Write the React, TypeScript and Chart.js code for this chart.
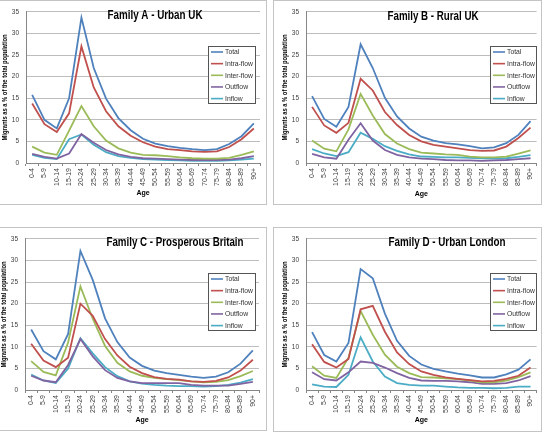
import React, { useEffect, useRef } from "react";
import { Chart, registerables } from "chart.js";

Chart.register(...registerables);

const ageGroups = [
  "0-4", "5-9", "10-14", "15-19", "20-24", "25-29", "30-34", "35-39", "40-44", "45-49",
  "50-54", "55-59", "60-64", "65-69", "70-74", "75-79", "80-84", "85-89", "90+",
];
const seriesNames = ["Total", "Intra-flow", "Inter-flow", "Outflow", "Inflow"];
const seriesColors = ["#4F81BD", "#C0504D", "#9BBB59", "#8064A2", "#4BACC6"];
const yTicks = [0, 5, 10, 15, 20, 25, 30, 35];
const yAxisTitle = "Migrants as a % of the total population";
const xAxisTitle = "Age";

// Family A - Urban UK
const totalA = [15.8, 10.0, 8.0, 15.0, 33.7, 22.0, 14.9, 10.4, 7.6, 5.6, 4.5, 3.9, 3.5, 3.2, 3.0, 3.2, 4.4, 6.2, 9.2];
const intraA = [13.8, 9.0, 7.2, 11.5, 27.0, 17.5, 12.0, 8.5, 6.3, 4.8, 3.8, 3.2, 3.0, 2.7, 2.6, 2.7, 3.7, 5.5, 8.0];
const interA = [3.8, 2.4, 1.9, 7.5, 13.2, 8.5, 5.2, 3.4, 2.4, 1.9, 1.8, 1.6, 1.3, 1.1, 1.0, 1.0, 1.2, 1.9, 2.7];
const outA = [2.1, 1.4, 1.0, 2.2, 6.7, 4.7, 3.0, 2.0, 1.4, 1.1, 1.0, 0.9, 0.8, 0.7, 0.7, 0.7, 0.8, 1.1, 1.6];
const inA = [1.9, 1.2, 0.9, 5.5, 6.6, 4.2, 2.5, 1.6, 1.2, 0.9, 0.8, 0.7, 0.6, 0.5, 0.5, 0.5, 0.6, 0.8, 1.0];

// Family B - Rural UK
const totalB = [15.5, 10.2, 8.4, 13.0, 27.5, 22.0, 15.1, 10.8, 8.0, 6.1, 5.2, 4.6, 4.3, 3.9, 3.4, 3.6, 4.6, 6.5, 9.7];
const intraB = [13.0, 8.7, 7.0, 9.3, 19.5, 16.8, 11.8, 8.8, 6.5, 5.0, 4.2, 3.8, 3.4, 3.0, 2.8, 2.9, 3.8, 5.8, 8.2];
const interB = [5.2, 3.3, 2.7, 7.8, 16.0, 11.0, 6.7, 4.5, 3.2, 2.4, 2.2, 2.0, 1.9, 1.5, 1.3, 1.3, 1.5, 2.2, 2.9];
const outB = [2.1, 1.3, 1.0, 5.4, 9.2, 5.2, 3.0, 1.9, 1.3, 1.0, 0.9, 0.7, 0.6, 0.6, 0.5, 0.6, 0.7, 0.9, 1.1];
const inB = [3.2, 2.2, 1.6, 2.5, 7.0, 5.6, 3.9, 2.8, 2.0, 1.5, 1.4, 1.3, 1.3, 1.2, 1.1, 1.0, 1.1, 1.4, 1.8];

// Family C - Prosperous Britain
const totalC = [14.0, 9.0, 7.1, 13.0, 32.2, 25.5, 16.6, 11.1, 7.5, 5.6, 4.5, 3.9, 3.5, 3.1, 2.8, 3.1, 4.1, 6.1, 9.2];
const intraC = [10.7, 6.8, 5.3, 7.5, 20.0, 17.2, 11.8, 8.0, 5.4, 3.9, 3.0, 2.6, 2.4, 2.0, 1.9, 2.1, 2.9, 4.5, 7.0];
const interC = [6.7, 4.2, 3.4, 11.0, 24.0, 16.5, 10.2, 6.3, 4.3, 3.3, 2.8, 2.5, 2.3, 2.0, 1.8, 1.9, 2.3, 3.2, 4.4];
const outC = [3.3, 2.2, 1.8, 5.8, 11.8, 7.8, 4.6, 2.8, 2.0, 1.6, 1.6, 1.6, 1.6, 1.2, 1.0, 1.0, 1.0, 1.4, 1.9];
const inC = [3.6, 2.2, 1.6, 5.0, 12.0, 8.5, 5.3, 3.2, 2.0, 1.5, 1.2, 1.0, 0.9, 0.9, 0.8, 0.9, 1.2, 1.7, 2.5];

// Family D - Urban London
const totalD = [13.4, 8.1, 6.6, 10.9, 28.0, 25.9, 17.7, 11.4, 7.9, 5.9, 4.9, 4.3, 3.8, 3.4, 2.9, 2.9, 3.6, 4.7, 7.1];
const intraD = [10.6, 6.5, 5.2, 7.2, 18.7, 19.5, 13.5, 8.7, 6.0, 4.3, 3.5, 2.9, 2.6, 2.3, 2.0, 2.1, 2.6, 3.3, 5.2];
const interD = [5.5, 3.3, 2.8, 7.5, 18.3, 12.8, 8.2, 5.4, 3.9, 3.0, 2.9, 2.7, 2.5, 2.2, 1.8, 1.8, 2.2, 3.0, 4.1];
const outD = [4.1, 2.5, 2.2, 4.1, 6.6, 6.3, 5.2, 3.9, 2.8, 2.2, 2.1, 2.1, 2.0, 1.8, 1.4, 1.4, 1.6, 2.2, 3.2];
const inD = [1.3, 0.8, 0.7, 3.5, 12.2, 6.6, 3.1, 1.6, 1.2, 1.0, 1.0, 0.8, 0.6, 0.5, 0.5, 0.4, 0.5, 0.8, 0.8];

const panelTitles = [
  "Family A - Urban UK",
  "Family B - Rural UK",
  "Family C - Prosperous Britain",
  "Family D - Urban London",
];
const panelSeries = [
  [totalA, intraA, interA, outA, inA],
  [totalB, intraB, interB, outB, inB],
  [totalC, intraC, interC, outC, inC],
  [totalD, intraD, interD, outD, inD],
];

const FONT = '"Liberation Sans Narrow", "Liberation Sans", Arial, sans-serif';

type Layout = {
  box: { left: number; top: number; width: number; height: number };
  plot: { l: number; r: number; t: number; b: number };
  title: { x: number; y: number; w: number };
  legend: { x: number; y: number; w: number; h: number };
  yTitleX: number;
  xTitleY: number;
};

const layouts: Layout[] = [
  {
    box: { left: -1, top: 0, width: 268, height: 205 },
    plot: { l: 26, r: 260, t: 6, b: 162 },
    title: { x: 155, y: 15, w: 95 },
    legend: { x: 208, y: 45, w: 47, h: 57 },
    yTitleX: 5.7,
    xTitleY: 192,
  },
  {
    box: { left: 273, top: 0, width: 269, height: 205 },
    plot: { l: 32, r: 265, t: 6, b: 162 },
    title: { x: 159, y: 16, w: 91 },
    legend: { x: 216, y: 45, w: 46, h: 57 },
    yTitleX: 11,
    xTitleY: 193,
  },
  {
    box: { left: -1, top: 227, width: 268, height: 204 },
    plot: { l: 25, r: 259, t: 6, b: 162 },
    title: { x: 175, y: 15, w: 137 },
    legend: { x: 208, y: 45, w: 47, h: 57 },
    yTitleX: 4,
    xTitleY: 192,
  },
  {
    box: { left: 273, top: 227, width: 269, height: 205 },
    plot: { l: 32, r: 265, t: 6, b: 162 },
    title: { x: 173, y: 15, w: 117 },
    legend: { x: 216, y: 45, w: 46, h: 57 },
    yTitleX: 11,
    xTitleY: 192,
  },
];

const overlayPlugin = {
  id: "overlay",
  afterDraw(chart: any, _args: any, opts: any) {
    const ctx = chart.ctx as CanvasRenderingContext2D;
    const ca = chart.chartArea;
    const lay: Layout = opts.layout;
    ctx.save();
    // Title
    ctx.fillStyle = "#000";
    ctx.textAlign = "center";
    ctx.textBaseline = "middle";
    ctx.font = `bold 12px ${FONT}`;
    ctx.fillText(opts.title, lay.title.x, lay.title.y, lay.title.w);
    // X axis title
    ctx.font = `bold 7px ${FONT}`;
    ctx.fillText(xAxisTitle, (ca.left + ca.right) / 2, lay.xTitleY);
    // Y axis title
    ctx.save();
    ctx.translate(lay.yTitleX, (ca.top + ca.bottom) / 2);
    ctx.rotate(-Math.PI / 2);
    ctx.font = `bold 6.5px ${FONT}`;
    ctx.fillText(yAxisTitle, 0, 0, 106);
    ctx.restore();
    // Legend
    const lg = lay.legend;
    ctx.fillStyle = "#fff";
    ctx.fillRect(lg.x, lg.y, lg.w, lg.h);
    ctx.strokeStyle = "#555";
    ctx.lineWidth = 1;
    ctx.strokeRect(lg.x + 0.5, lg.y + 0.5, lg.w, lg.h);
    ctx.textAlign = "left";
    ctx.font = `6.8px ${FONT}`;
    chart.data.datasets.forEach((ds: any, i: number) => {
      const y = lg.y + 6 + i * 11.65;
      ctx.strokeStyle = ds.borderColor;
      ctx.lineWidth = 1.6;
      ctx.beginPath();
      ctx.moveTo(lg.x + 3, y);
      ctx.lineTo(lg.x + 15, y);
      ctx.stroke();
      ctx.fillStyle = "#333";
      ctx.fillText(ds.label, lg.x + 17, y + 0.5);
    });
    ctx.restore();
  },
};

function Panel({ index }: { index: number }) {
  const ref = useRef<HTMLCanvasElement | null>(null);
  const lay = layouts[index];
  const cw = lay.box.width - 2;
  const ch = lay.box.height - 2;

  useEffect(() => {
    if (!ref.current) return;
    const series = panelSeries[index];
    const chart = new Chart(ref.current, {
      type: "line",
      data: {
        labels: ageGroups,
        datasets: seriesNames.map((name, i) => ({
          label: name,
          data: series[i],
          borderColor: seriesColors[i],
          backgroundColor: seriesColors[i],
          borderWidth: 1.8,
          pointRadius: 0,
          tension: 0,
          fill: false,
        })),
      },
      options: {
        responsive: false,
        animation: false,
        devicePixelRatio: 1,
        layout: {
          padding: { left: 0, top: lay.plot.t, right: cw - lay.plot.r, bottom: 0 },
        },
        plugins: {
          legend: { display: false },
          title: { display: false },
          tooltip: { enabled: false },
          overlay: { layout: lay, title: panelTitles[index] },
        } as any,
        scales: {
          x: {
            type: "category",
            offset: true,
            afterFit: (s: any) => {
              s.height = ch - lay.plot.b;
            },
            grid: {
              display: true,
              drawOnChartArea: false,
              drawTicks: true,
              offset: true,
              tickLength: 3,
              color: "#868686",
            },
            border: { display: true, color: "#868686", width: 1 },
            ticks: {
              minRotation: 90,
              maxRotation: 90,
              autoSkip: false,
              padding: 2,
              color: "#404040",
              font: { family: FONT, size: 7 },
            },
          },
          y: {
            type: "linear",
            min: 0,
            max: 35,
            afterFit: (s: any) => {
              s.width = lay.plot.l;
            },
            afterBuildTicks: (s: any) => {
              s.ticks = yTicks.map((v) => ({ value: v }));
            },
            grid: {
              display: true,
              drawTicks: false,
              color: "#bdbdbd",
              lineWidth: 1,
            },
            border: { display: true, color: "#868686", width: 1 },
            ticks: {
              padding: 7,
              color: "#404040",
              font: { family: FONT, size: 6.5 },
            },
          },
        },
      },
      plugins: [overlayPlugin as any],
    });
    return () => chart.destroy();
  }, [index]);

  return (
    <div
      style={{
        position: "absolute",
        left: lay.box.left,
        top: lay.box.top,
        width: lay.box.width,
        height: lay.box.height,
        boxSizing: "border-box",
        border: "1px solid #c4c4c4",
        background: "#fff",
      }}
    >
      <canvas ref={ref} width={cw} height={ch} style={{ display: "block", width: cw, height: ch }} />
    </div>
  );
}

export default function App() {
  return (
    <div
      style={{
        position: "fixed",
        left: 0,
        top: 0,
        width: 545,
        height: 434,
        background: "#fff",
        overflow: "hidden",
      }}
    >
      {[0, 1, 2, 3].map((i) => (
        <Panel key={i} index={i} />
      ))}
    </div>
  );
}
